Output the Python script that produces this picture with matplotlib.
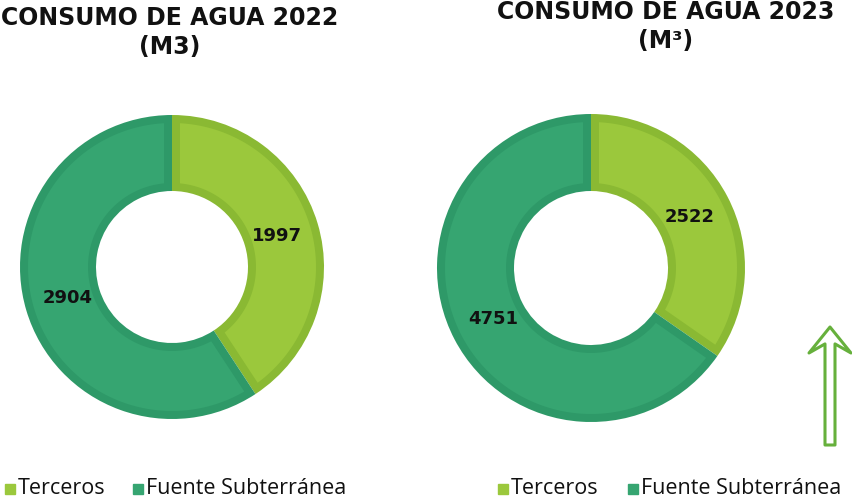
import math
import numpy as np
import matplotlib.pyplot as plt
from matplotlib.patches import FancyArrow, Polygon, Rectangle

# datos
categorias = ["Terceros", "Fuente Subterránea"]
consumo_2022 = [1997, 2904]
consumo_2023 = [2522, 4751]
titulo_2022 = "CONSUMO DE AGUA 2022\n(M3)"
titulo_2023 = "CONSUMO DE AGUA 2023\n(M³)"

relleno = ["#9BC83C", "#36A571"]
borde = ["#8AB933", "#2E9968"]

W, H = 852, 501
fig = plt.figure(figsize=(W / 100, H / 100), dpi=100)


def cuna_interior(t1, t2, r_in, r_out, d):
    # poligono de la cuna encogido un ancho d (borde interior)
    ro, ri = r_out - d, r_in + d
    a_o, a_i = math.degrees(math.asin(d / ro)), math.degrees(math.asin(d / ri))
    ang_o = np.radians(np.linspace(t1 + a_o, t2 - a_o, 120))
    ang_i = np.radians(np.linspace(t2 - a_i, t1 + a_i, 120))
    xs = np.concatenate([ro * np.cos(ang_o), ri * np.cos(ang_i)])
    ys = np.concatenate([ro * np.sin(ang_o), ri * np.sin(ang_i)])
    return np.column_stack([xs, ys])


def dona(cx, cy, r, valores):
    lim = 1.02
    lado = r * lim * 2
    ax = fig.add_axes([(cx - lado / 2) / W, (H - cy - lado / 2) / H, lado / W, lado / H])
    wedges, _ = ax.pie(valores, colors=borde, startangle=90, counterclock=False,
                       radius=1, wedgeprops=dict(width=0.5, linewidth=0))
    d = 8.0 / r
    for w, c in zip(wedges, relleno):
        t1, t2 = sorted([w.theta1, w.theta2])
        ax.add_patch(Polygon(cuna_interior(t1, t2, 0.5, 1.0, d), closed=True,
                             facecolor=c, edgecolor="none"))
    total = sum(valores)
    acum = 0
    for v in valores:
        ang = math.radians(90 - 360 * (acum + v / 2) / total)
        ax.text(0.72 * math.cos(ang), 0.72 * math.sin(ang), str(v), ha="center", va="center",
                fontsize=13, fontweight="bold", family="DejaVu Sans", color="#111111")
        acum += v
    ax.set_xlim(-lim, lim)
    ax.set_ylim(-lim, lim)
    ax.set_aspect("equal")
    ax.axis("off")


dona(172, 267, 152, consumo_2022)
dona(591, 268, 154, consumo_2023)

# capa en pixeles para textos, leyendas y flecha
capa = fig.add_axes([0, 0, 1, 1], zorder=5)
capa.set_xlim(0, W)
capa.set_ylim(H, 0)
capa.axis("off")

capa.text(170, 6, titulo_2022, ha="center", va="top", fontsize=17,
          fontweight="bold", family="DejaVu Sans", color="#111111", linespacing=1.25)
capa.text(666, 0, titulo_2023, ha="center", va="top", fontsize=17,
          fontweight="bold", family="DejaVu Sans", color="#111111", linespacing=1.25)


def leyenda(x0, x1):
    y = 489
    for x, c, t in zip([x0, x1], relleno, categorias):
        capa.add_patch(Rectangle((x, y - 5), 10, 10, color=c))
        capa.text(x + 13, y, t, ha="left", va="center", fontsize=15.5,
                  family="Open Sans", color="#111111")


leyenda(5, 133)
leyenda(498, 628)

# flecha
capa.add_patch(FancyArrow(830, 445, 0, -118, width=10, head_width=42, head_length=26,
                          overhang=0.35, length_includes_head=True, facecolor="white",
                          edgecolor="#66B03C", linewidth=2.2, joinstyle="round",
                          capstyle="round", clip_on=False))

fig.savefig("out.png", dpi=100)
